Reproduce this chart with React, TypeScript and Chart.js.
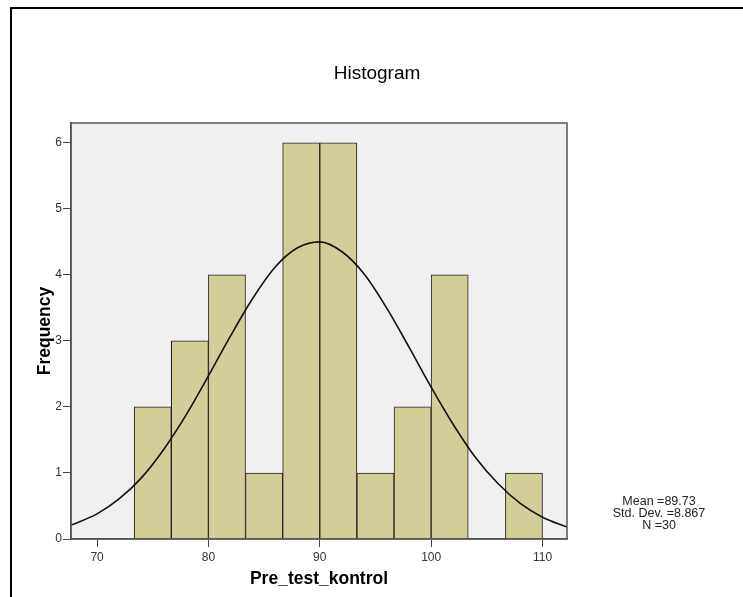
import React, { useEffect, useRef } from "react";
import { Chart, registerables } from "chart.js";

Chart.register(...registerables);

const chartTitle = "Histogram";
const xAxisTitle = "Pre_test_kontrol";
const yAxisTitle = "Frequency";

// histogram bins (edges) and counts
const binEdges = [73.33, 76.67, 80, 83.33, 86.67, 90, 93.33, 96.67, 100, 103.33, 106.67, 110];
const frequencies = [2, 3, 4, 1, 6, 6, 1, 2, 4, 0, 1];

// fitted normal curve
const curveX = [67.66, 70, 72, 74, 76, 78, 80, 82, 84, 86, 88, 90, 92, 94, 96, 98, 100, 102, 104, 106, 108, 110, 112.2];
const curveY = [0.21, 0.38, 0.61, 0.93, 1.36, 1.88, 2.47, 3.08, 3.65, 4.12, 4.41, 4.5, 4.35, 4.01, 3.5, 2.91, 2.3, 1.73, 1.23, 0.84, 0.54, 0.33, 0.18];

const xTickValues = [70, 80, 90, 100, 110];
const yTickValues = [0, 1, 2, 3, 4, 5, 6];
const xRange = [67.66, 112.2];
const yRange = [0, 6.3];

const statsLines = ["Mean =89.73", "Std. Dev. =8.867", "N =30"];

const FONT = "'Liberation Sans', Arial, Helvetica, sans-serif";

const decorPlugin = {
  id: "decor",
  beforeDraw(chart: any) {
    const { ctx, chartArea: a } = chart;
    ctx.save();
    ctx.fillStyle = "#ffffff";
    ctx.fillRect(0, 0, chart.width, chart.height);
    ctx.fillStyle = "#F0F0F0";
    ctx.fillRect(a.left, a.top, a.right - a.left, a.bottom - a.top);
    ctx.fillStyle = "#000000";
    ctx.fillRect(10, 7, 2, chart.height - 7);
    ctx.fillRect(10, 7, chart.width - 10, 2);
    ctx.restore();
  },
  afterDraw(chart: any) {
    const { ctx, chartArea: a } = chart;
    ctx.save();
    ctx.strokeStyle = "#555555";
    ctx.lineWidth = 1.5;
    ctx.strokeRect(a.left, a.top, a.right - a.left, a.bottom - a.top);
    ctx.fillStyle = "#222222";
    ctx.font = `12.5px ${FONT}`;
    ctx.textAlign = "center";
    ctx.textBaseline = "middle";
    statsLines.forEach((t, i) => ctx.fillText(t, a.right + 92, a.bottom - 37 + i * 12));
    ctx.restore();
  },
};

export default function App() {
  const ref = useRef<HTMLCanvasElement>(null);

  useEffect(() => {
    if (!ref.current) return;
    const centers = frequencies.map((_, i) => (binEdges[i] + binEdges[i + 1]) / 2);
    const chart = new Chart(ref.current, {
      type: "bar",
      data: {
        datasets: [
          {
            type: "line",
            data: curveX.map((x, i) => ({ x, y: curveY[i] })),
            borderColor: "#111111",
            borderWidth: 1.6,
            pointRadius: 0,
            cubicInterpolationMode: "monotone",
            fill: false,
            order: 0,
          } as any,
          {
            type: "bar",
            data: centers.map((x, i) => ({ x, y: frequencies[i] })),
            backgroundColor: "#D3CE97",
            borderColor: "#222222",
            borderWidth: 1,
            barPercentage: 1,
            categoryPercentage: 1,
            order: 1,
          } as any,
        ],
      },
      options: {
        responsive: false,
        animation: false,
        devicePixelRatio: 1,
        layout: { padding: { left: 11, right: 0, top: 0, bottom: 0 } },
        plugins: {
          legend: { display: false },
          tooltip: { enabled: false },
          title: {
            display: true,
            text: chartTitle,
            color: "#000000",
            font: { family: FONT, size: 19, weight: "normal" },
            padding: { top: 62.6, bottom: 37.6 },
          },
        },
        scales: {
          x: {
            type: "linear",
            min: xRange[0],
            max: xRange[1],
            offset: false,
            afterBuildTicks: (s: any) => {
              s.ticks = xTickValues.map((v) => ({ value: v }));
            },
            afterFit: (s: any) => {
              s.height = 58;
            },
            grid: { display: true, drawOnChartArea: false, drawTicks: true, tickLength: 8, color: "#444444", offset: false },
            border: { display: true, color: "#444444", width: 1.5 },
            ticks: { color: "#333333", font: { family: FONT, size: 12 }, padding: 3, maxRotation: 0 },
            title: {
              display: true,
              text: xAxisTitle,
              color: "#000000",
              font: { family: FONT, size: 17.5, weight: "bold" },
              padding: { top: 0, bottom: 7.5 },
            },
          },
          y: {
            type: "linear",
            min: yRange[0],
            max: yRange[1],
            afterBuildTicks: (s: any) => {
              s.ticks = yTickValues.map((v) => ({ value: v }));
            },
            afterFit: (s: any) => {
              s.width = 60;
            },
            grid: { display: true, drawOnChartArea: false, drawTicks: true, tickLength: 8, color: "#444444" },
            border: { display: true, color: "#444444", width: 1.5 },
            ticks: { color: "#333333", font: { family: FONT, size: 12 }, padding: 1 },
            title: {
              display: true,
              text: yAxisTitle,
              color: "#000000",
              font: { family: FONT, size: 17.5, weight: "bold" },
              padding: { top: 23.5, bottom: 0 },
            },
          },
          yRight: {
            type: "linear",
            position: "right",
            display: true,
            min: 0,
            max: 1,
            afterFit: (s: any) => {
              s.width = 176;
            },
            grid: { display: false },
            border: { display: false },
            ticks: { display: false },
          },
        },
      } as any,
      plugins: [decorPlugin],
    });
    return () => chart.destroy();
  }, []);

  return (
    <div style={{ position: "fixed", left: 0, top: 0, width: 743, height: 597 }}>
      <canvas ref={ref} width={743} height={597} style={{ width: 743, height: 597, display: "block" }} />
    </div>
  );
}
